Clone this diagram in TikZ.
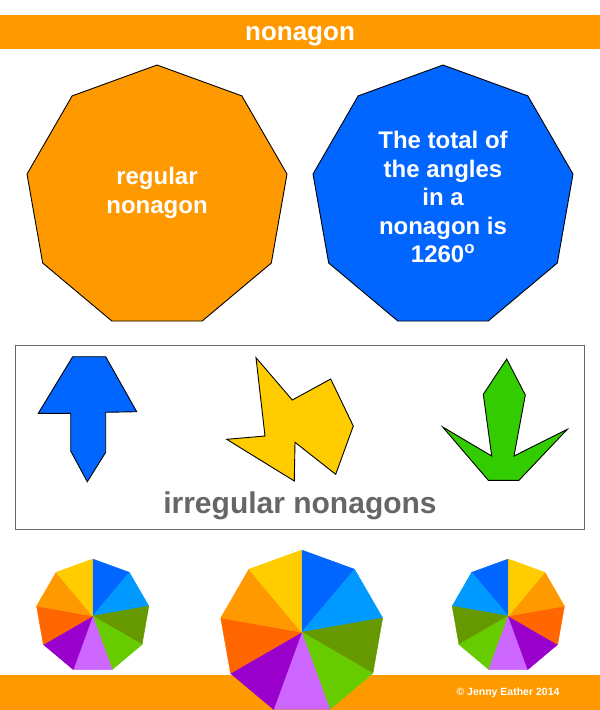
\documentclass[tikz,border=0pt]{standalone}
\usepackage{fontspec}
\setmainfont{Liberation Sans}
\usepackage{xcolor}
\definecolor{ngOrange}{HTML}{FF9900}
\definecolor{ngBlue}{HTML}{0066FF}
\definecolor{ngSky}{HTML}{0099FF}
\definecolor{ngOlive}{HTML}{669900}
\definecolor{ngGreen}{HTML}{66CC00}
\definecolor{ngLilac}{HTML}{CC66FF}
\definecolor{ngPurple}{HTML}{9900CC}
\definecolor{ngRed}{HTML}{FF6600}
\definecolor{ngYellow}{HTML}{FFCC00}
\definecolor{ngLime}{HTML}{33CC00}
\definecolor{ngGrey}{HTML}{666666}
% pie-coloured nonagon: centre x, centre y, radius, turn (1 or -1)
\newcommand{\pienonagon}[4]{%
  \begin{scope}[shift={(#1,#2)}]
    \foreach \col [count=\i from 0] in {ngBlue,ngSky,ngOlive,ngGreen,ngLilac,ngPurple,ngRed,ngOrange,ngYellow}
      \fill[\col,draw=\col,line width=0.4,line join=round]
        (0,0) -- ({-90+(#4)*40*\i}:#3) -- ({-90+(#4)*40*(\i+1)}:#3) -- cycle;
  \end{scope}}

\begin{document}
\begin{tikzpicture}[
  x=1pt,y=-1pt,
  poly/.style={draw=black,line width=0.9,line join=miter},
  band/.style={fill=ngOrange},
  head/.style={text=white,font=\bfseries\fontsize{26}{30}\selectfont,anchor=base},
  inside/.style={text=white,font=\bfseries\fontsize{24}{28.4}\selectfont,align=center},
  irr/.style={text=ngGrey,font=\bfseries\fontsize{30}{34}\selectfont,anchor=base},
  foot/.style={text=white,font=\bfseries\fontsize{10.5}{12}\selectfont,anchor=base}
]
\useasboundingbox (0,0) rectangle (600,710);

% title band
\fill[band] (0,15) rectangle (600,49);
\node[head] (title) at (300,40.5) {nonagon};

% regular nonagons
\draw[poly,fill=ngOrange,shift={(157,197)}] (-90:132) \foreach \a in {-50,-10,...,230}{ -- (\a:132)} -- cycle;
\node[inside] (regtxt) at (157,192.8) {regular\\nonagon};
\draw[poly,fill=ngBlue,shift={(443,197)}] (-90:132) \foreach \a in {-50,-10,...,230}{ -- (\a:132)} -- cycle;
\node[inside] (sumtxt) at (443,197.2) {The total of\\the angles\\in a\\nonagon is\\1260\textsuperscript{o}};

% irregular nonagons
\draw[draw=ngGrey,line width=0.9] (15,345.5) rectangle (584,529.5);
\draw[poly,fill=ngBlue] (72.7,356.7) -- (105.7,356.7) -- (136.7,411.7) -- (105.7,412.3)
  -- (105.7,452.3) -- (87.3,481.7) -- (70.7,451) -- (70.7,413.3) -- (38.3,413.3) -- cycle;
\draw[poly,fill=ngYellow] (256,357.7) -- (292.3,400) -- (330.7,379) -- (353.3,426)
  -- (335.7,474.3) -- (295,442.3) -- (294.3,481) -- (226.7,439.3) -- (265,436) -- cycle;
\draw[poly,fill=ngLime] (506.7,359) -- (525.3,395) -- (514,456) -- (567.3,429.3)
  -- (519,480.3) -- (488.3,480.3) -- (442.7,427) -- (491.7,456) -- (483.3,394.3) -- cycle;
\node[irr] (irrtxt) at (300,513.5) {irregular nonagons};

% footer band and coloured nonagons
\fill[band] (0,675) rectangle (600,710);
\pienonagon{92.7}{616}{57}{1}
\pienonagon{508.3}{616}{57}{-1}
\pienonagon{301.7}{632.2}{82.2}{1}
\node[foot] (credit) at (508,695.5) {© Jenny Eather 2014};
\end{tikzpicture}
\end{document}
